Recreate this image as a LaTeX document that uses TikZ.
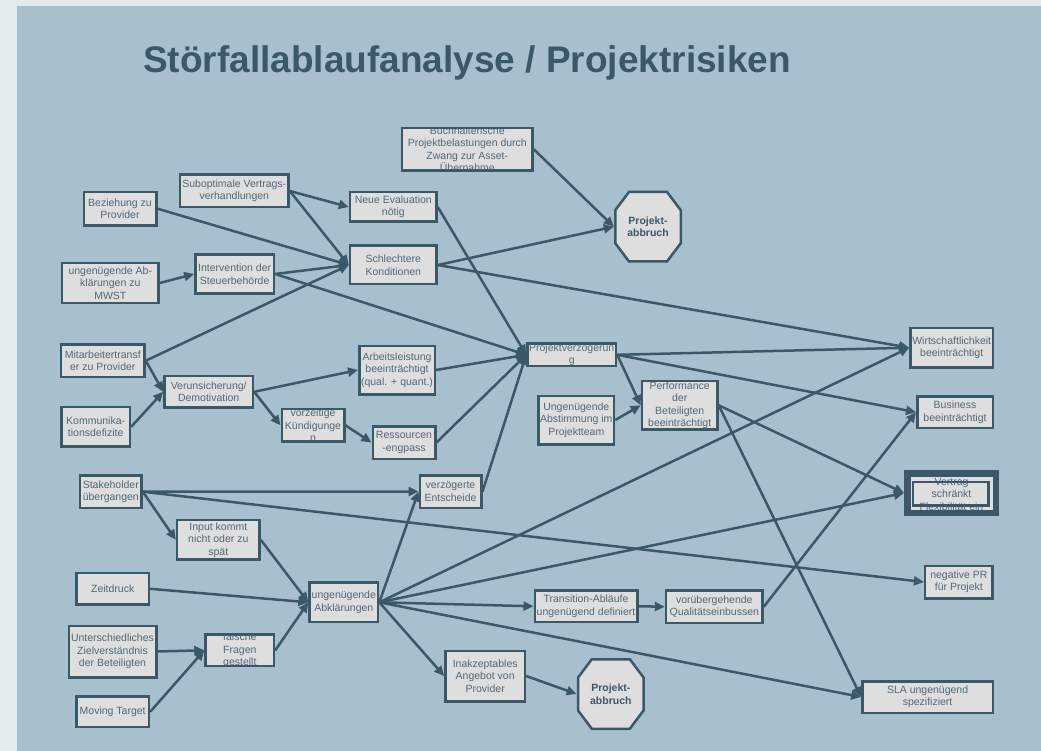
\documentclass[tikz,border=0pt]{standalone}
\usepackage{fontspec}
\setmainfont{Liberation Sans}
\usetikzlibrary{arrows.meta}
\definecolor{outerbg}{RGB}{227,234,237}
\definecolor{panelbg}{RGB}{168,192,205}
\definecolor{linec}{RGB}{59,88,104}
\definecolor{boxfill}{RGB}{222,222,223}
\definecolor{textc}{RGB}{80,104,118}
\tikzset{
 box/.style={draw=linec, line width=2.5pt, fill=boxfill, inner sep=0pt, align=center, text=textc, font=\fontsize{10.5}{12.5}\selectfont},
 boxtext/.style={inner sep=0pt, align=center, text=textc, font=\fontsize{10.5}{12.5}\selectfont},
 conn/.style={draw=linec, line width=2.5pt, -{Triangle[length=10pt,width=9pt]}},
 octtext/.style={inner sep=0pt, align=center, text=linec, font=\bfseries\fontsize{10.5}{12.5}\selectfont, minimum width=68pt, minimum height=72pt},
 octline/.style={draw=linec, line width=2.5pt, fill=boxfill},
 titlestyle/.style={anchor=base west, inner sep=0pt, text=linec, font=\bfseries\fontsize{37}{44}\selectfont},
}
\newcommand\bx[5]{\node[box, minimum width={(#3-2.5)*1pt}, minimum height={(#4-2.5)*1pt}] (#1) at (#2) {#5};}
\newcommand\cbx[5]{%
 \node[box, minimum width={(#3-2.5)*1pt}, minimum height={(#4-2.5)*1pt}] (#1) at (#2) {};
 \begin{scope}
 \clip ([shift={(2.5pt,-2.5pt)}]#1.north west) rectangle ([shift={(-2.5pt,2.5pt)}]#1.south east);
 \node[boxtext] at (#1.center) {#5};
 \end{scope}}
\newcommand\octa[2]{%
 \draw[octline, shift={(#2)}] (-19,-34.75) -- (19,-34.75) -- (32.75,-16.5) -- (32.75,16.5) -- (19,34.75) -- (-19,34.75) -- (-32.75,16.5) -- (-32.75,-16.5) -- cycle;
 \node[octtext] (#1) at (#2) {Projekt-\\abbruch};}
\begin{document}
\begin{tikzpicture}[x=1pt,y=-1pt]
\useasboundingbox (0,0) rectangle (1041,751);
\fill[outerbg] (0,0) rectangle (1041,751);
\fill[panelbg] (17,6) rectangle (1041,751);
\node[titlestyle] (title) at (143,73) {Störfallablaufanalyse / Projektrisiken};

\bx{beziehung}{120,208.7}{75}{36}{Beziehung zu\\Provider}
\bx{subopt}{234.3,191}{111}{35}{Suboptimale Vertrags-\\verhandlungen}
\bx{neue}{393.3,207}{89}{32}{Neue Evaluation\\nötig}
\bx{schlecht}{393.3,265}{89}{41}{Schlechtere\\Konditionen}
\bx{mwst}{110.3,283}{99}{42}{ungenügende Ab-\\klärungen zu\\MWST}
\bx{interv}{234.7,274}{81}{41}{Intervention der\\Steuerbehörde}
\cbx{buch}{467.3,149.3}{133}{45}{Buchhalterische\\Projektbelastungen durch\\Zwang zur Asset-\\Übernahme}
\octa{pa1}{648,226.7}
\bx{mitarb}{102.8,360.7}{86}{35}{Mitarbeitertransf\\er zu Provider}
\bx{verun}{208.7,391.8}{91}{34}{Verunsicherung/\\Demotivation}
\bx{kommu}{95.7,426.8}{71}{42}{Kommunika-\\tionsdefizite}
\bx{arbeit}{397,370}{78}{51}{Arbeitsleistung\\beeinträchtigt\\(qual. + quant.)}
\cbx{vorz}{313,425.3}{65}{35}{vorzeitige\\Kündigunge\\n}
\bx{ress}{404,442.5}{65}{35}{Ressourcen\\-engpass}
\bx{stake}{110.8,491.7}{64}{35}{Stakeholder\\übergangen}
\bx{verzE}{450.5,491.5}{64}{35}{verzögerte\\Entscheide}
\cbx{pv}{571.7,354.8}{91}{25}{Projektverzögerun\\g}
\bx{abst}{576.3,420}{78}{51}{Ungenügende\\Abstimmung im\\Projektteam}
\cbx{perf}{679.7,405.3}{78}{51}{Performance\\der\\Beteiligten\\beeinträchtigt}
\bx{wirt}{951.7,347.7}{85}{42}{Wirtschaftlichkeit\\beeinträchtigt}
\bx{bus}{955,412.2}{78}{34}{Business\\beeinträchtigt}
% Vertrag box with heavy frame
\node[box, line width=6.5pt, minimum width=88.8pt, minimum height=39.5pt] (vertrag) at (951.65,493) {};
\begin{scope}
 \clip ([shift={(6.5pt,-6.5pt)}]vertrag.north west) rectangle ([shift={(-6.5pt,6.5pt)}]vertrag.south east);
 \node[boxtext] at (951.5,494) {Vertrag\\schränkt\\Flexibilität ein};
\end{scope}
\draw[draw=linec, line width=2.5pt] (913,482) rectangle (988.7,505.3);
\bx{input}{218.3,539.8}{85}{42}{Input kommt\\nicht oder zu\\spät}
\bx{zeit}{112.7,588.8}{75}{34}{Zeitdruck}
\bx{ua}{343.8,602.3}{71}{42}{ungenügende\\Abklärungen}
\bx{unter}{112.5,651.5}{90}{54}{Unterschiedliches\\Zielverständnis\\der Beteiligten}
\cbx{falsch}{239.8,650.3}{71}{34}{falsche\\Fragen\\gestellt}
\bx{moving}{112.7,711.8}{75}{33}{Moving Target}
\bx{inak}{485.2,676}{82}{53}{Inakzeptables\\Angebot von\\Provider}
\bx{trans}{586,606.3}{105}{34}{Transition-Abläufe\\ungenügend definiert}
\bx{vorueb}{714.3,606.7}{99}{35}{vorübergehende\\Qualitätseinbussen}
\bx{negpr}{958.9,582}{70}{35}{negative PR\\für Projekt}
\octa{pa2}{610.8,694}
\bx{sla}{927.6,697}{133}{34}{SLA ungenügend\\spezifiziert}

% connectors
\draw[conn] (beziehung.east) -- (schlecht.west);
\draw[conn] (subopt.east) -- (neue.west);
\draw[conn] (subopt.east) -- (schlecht.west);
\draw[conn] (interv.east) -- (schlecht.west);
\draw[conn] (mwst.east) -- (interv.west);
\draw[conn] (mitarb.east) -- (schlecht.west);
\draw[conn] (interv.east) -- (pv.west);
\draw[conn] (neue.east) -- (pv.west);
\draw[conn] (buch.east) -- (pa1.west);
\draw[conn] (schlecht.east) -- (pa1.west);
\draw[conn] (schlecht.east) -- (wirt.west);
\draw[conn] (mitarb.east) -- (verun.west);
\draw[conn] (kommu.east) -- (verun.west);
\draw[conn] (verun.east) -- (arbeit.west);
\draw[conn] (verun.east) -- (vorz.west);
\draw[conn] (vorz.east) -- (ress.west);
\draw[conn] (arbeit.east) -- (pv.west);
\draw[conn] (ress.east) -- (pv.west);
\draw[conn] (verzE.east) -- (pv.west);
\draw[conn] (stake.east) -- (verzE.west);
\draw[conn] (stake.east) -- (negpr.west);
\draw[conn] (stake.east) -- (input.west);
\draw[conn] (input.east) -- (ua.west);
\draw[conn] (zeit.east) -- (ua.west);
\draw[conn] (unter.east) -- (falsch.west);
\draw[conn] (moving.east) -- (falsch.west);
\draw[conn] (falsch.east) -- (ua.west);
\draw[conn] (ua.east) -- (verzE.west);
\draw[conn] (ua.east) -- (wirt.west);
\draw[conn] (ua.east) -- (vertrag.west);
\draw[conn] (ua.east) -- (trans.west);
\draw[conn] (ua.east) -- (sla.west);
\draw[conn] (ua.east) -- (inak.west);
\draw[conn] (inak.east) -- (pa2.west);
\draw[conn] (trans.east) -- (vorueb.west);
\draw[conn] (vorueb.east) -- (bus.west);
\draw[conn] (pv.east) -- (wirt.west);
\draw[conn] (pv.east) -- (bus.west);
\draw[conn] (pv.east) -- (perf.west);
\draw[conn] (abst.east) -- (perf.west);
\draw[conn] (perf.east) -- (vertrag.west);
\draw[conn] (perf.east) -- (sla.west);
\end{tikzpicture}
\end{document}
